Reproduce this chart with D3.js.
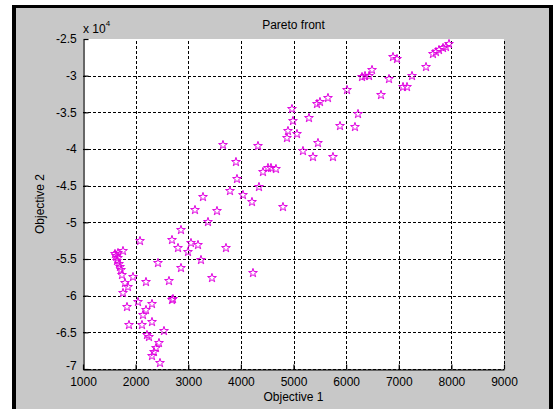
<!DOCTYPE html>
<html>
<head>
<meta charset="utf-8">
<script src="https://cdn.jsdelivr.net/npm/d3@7"></script>
<style>
  html, body { margin: 0; padding: 0; background: #ffffff; }
  svg { display: block; }
  text { font-family: "Liberation Sans", Arial, Helvetica, sans-serif; fill: #000; }
</style>
</head>
<body>
<svg id="chart" width="553" height="409"></svg>
<script>
// ---- data ----
const obj1 = [
  7955, 7897, 7841, 7765, 7707, 7650, 7518, 7252, 7157, 7081,
  6967, 6891, 6815, 6663, 6492, 6435, 6359, 6302, 6017, 5655,
  5503, 5446, 4971, 6226, 5294, 4990, 5884, 6168, 4895, 5066,
  4876, 5465, 5180, 5370, 5750,
  3660, 4325, 3907, 4420, 4515, 4572, 4667, 3926, 4344, 3793,
  4040, 4211, 4800, 3280, 3128, 3546, 3375, 3052, 3185, 2995,
  3717, 3242, 4230, 3451,
  2862, 2083, 2691, 2805, 2425, 2862, 2634, 2197, 1950, 1855,
  1798, 1760, 2710, 2691, 2045, 2311, 1836, 2197, 2140, 2311,
  1874, 2121, 2539, 2216, 2254, 2444, 2387, 2349, 2311, 2463,
  1760, 1665, 1627, 1665, 1646, 1684, 1703, 1722, 1741, 1608
];
const obj2 = [
  -25682, -26091, -26227, -26500, -26773, -27045, -28818, -30045, -31545, -31545,
  -27727, -27455, -30455, -32636, -29227, -30045, -30045, -30182, -31955, -33045,
  -33591, -33864, -34545, -35227, -35773, -36182, -36864, -37000, -37545, -37955,
  -38500, -39182, -40273, -41091, -41091,
  -39455, -39591, -41773, -43136, -42591, -42591, -42727, -44091, -45182, -45727,
  -46273, -47227, -47909, -46545, -48318, -48455, -49955, -52818, -53091, -54045,
  -53500, -55136, -56909, -57591,
  -51045, -52545, -52409, -53500, -55545, -56227, -58000, -58136, -57455, -58818,
  -58273, -59636, -60455, -60591, -60864, -61136, -61545, -61955, -62636, -63591,
  -64000, -64000, -64818, -65364, -65636, -66455, -67136, -67682, -68227, -69182,
  -53909, -54182, -54591, -54864, -55273, -55682, -56091, -56500, -57182, -54318
];
const xTicks = [1000, 2000, 3000, 4000, 5000, 6000, 7000, 8000, 9000];
const yTicks = [-25000, -30000, -35000, -40000, -45000, -50000, -55000, -60000, -65000, -70000];
const titleText = "Pareto front";
const xLabel = "Objective 1";
const yLabel = "Objective 2";

// ---- layout ----
const svg = d3.select("#chart");
const L = 83, R = 504, T = 39, B = 369;

// window frame
svg.append("rect").attr("x", 12).attr("y", 5).attr("width", 541).attr("height", 404)
  .attr("fill", "#c8c8c8");
svg.append("rect").attr("x", 12).attr("y", 5).attr("width", 4).attr("height", 404).attr("fill", "#000");
svg.append("rect").attr("x", 12).attr("y", 5).attr("width", 541).attr("height", 3).attr("fill", "#000");
svg.append("rect").attr("x", 549).attr("y", 5).attr("width", 4).attr("height", 404).attr("fill", "#000");

// plot area
svg.append("rect").attr("x", L).attr("y", T).attr("width", R - L).attr("height", B - T)
  .attr("fill", "#ffffff");

const x = d3.scaleLinear().domain([1000, 9000]).range([L, R]);
const y = d3.scaleLinear().domain([-70000, -25000]).range([B, T]);

// grid
const grid = svg.append("g").attr("stroke", "#000").attr("stroke-width", 1)
  .attr("stroke-dasharray", "3,2").attr("shape-rendering", "crispEdges");
grid.selectAll("line.gx").data(xTicks.slice(1)).join("line")
  .attr("x1", d => Math.round(x(d)) + 0.5).attr("x2", d => Math.round(x(d)) + 0.5)
  .attr("y1", B).attr("y2", T);
grid.selectAll("line.gy").data(yTicks.slice(1)).join("line")
  .attr("y1", d => Math.round(y(d)) + 0.5).attr("y2", d => Math.round(y(d)) + 0.5)
  .attr("x1", L).attr("x2", R);

// axes
const xAxis = d3.axisBottom(x).tickValues(xTicks).tickSizeInner(-5).tickSizeOuter(0)
  .tickPadding(8).tickFormat(d3.format("d"));
const gx = svg.append("g").attr("transform", `translate(0,${B + 0.5})`).call(xAxis);
const yAxis = d3.axisLeft(y).tickValues(yTicks).tickSizeInner(-5).tickSizeOuter(0)
  .tickPadding(8).tickFormat(d => String(d / 10000));
const gy = svg.append("g").attr("transform", `translate(${L + 0.5},0)`).call(yAxis);
[gx, gy].forEach(g => {
  g.selectAll("path.domain").attr("stroke", "#000").attr("stroke-width", 1.2);
  g.selectAll(".tick line").attr("stroke", "#000").attr("stroke-width", 1.2);
  g.selectAll(".tick text").attr("font-size", 12).attr("fill", "#000")
    .attr("font-family", "'Liberation Sans', Arial, sans-serif");
});
gy.selectAll(".tick text").attr("dx", "0.1em");
// lowest y label sits just above the first x label, as in the reference
gy.selectAll(".tick text").filter(d => d === yTicks[yTicks.length - 1])
  .attr("y", -3);

// exponent label
const ex = svg.append("text").attr("x", L).attr("y", 33).attr("font-size", 12);
ex.append("tspan").text("x 10");
ex.append("tspan").attr("dy", -7).attr("font-size", 8).text("4");

// title and labels
svg.append("text").attr("x", (L + R) / 2).attr("y", 29).attr("text-anchor", "middle")
  .attr("font-size", 12).text(titleText);
svg.append("text").attr("x", (L + R) / 2).attr("y", 401).attr("text-anchor", "middle")
  .attr("font-size", 12).text(xLabel);
svg.append("text").attr("transform", `translate(44,${(T + B) / 2}) rotate(-90)`)
  .attr("text-anchor", "middle").attr("font-size", 12).text(yLabel);

// markers
const star = d3.symbol().type(d3.symbolStar).size(24);
svg.append("g").selectAll("path").data(obj1.map((v, i) => [v, obj2[i]])).join("path")
  .attr("transform", d => `translate(${x(d[0])},${y(d[1])})`)
  .attr("d", star)
  .attr("fill", "none").attr("stroke", "#e000e0").attr("stroke-width", 1);
</script>
</body>
</html>
